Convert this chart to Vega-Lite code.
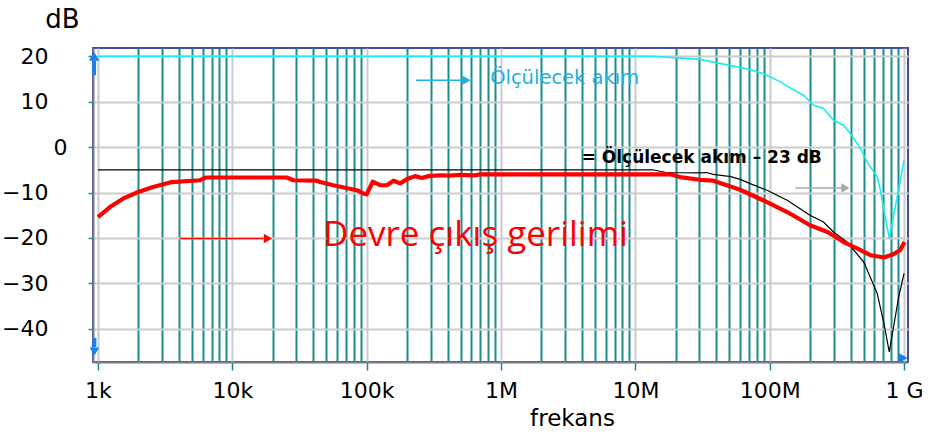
{
  "$schema": "https://vega.github.io/schema/vega-lite/v6.json",
  "width": 815,
  "height": 314,
  "autosize": {"type": "none"},
  "padding": {"left": 93, "top": 48, "right": 20, "bottom": 72},
  "background": "white",
  "config": {
    "view": {"stroke": "#4a4a9c", "strokeWidth": 2},
    "font": "DejaVu Sans"
  },
  "data": {
    "values": [
      {"k": "cyan", "f": 1000, "db": 20},
      {"k": "cyan", "f": 13490000, "db": 20},
      {"k": "cyan", "f": 30200000, "db": 19.3},
      {"k": "cyan", "f": 70790000, "db": 17.1},
      {"k": "cyan", "f": 89130000, "db": 16.2},
      {"k": "cyan", "f": 120200000, "db": 14.35},
      {"k": "cyan", "f": 134900000, "db": 13.4},
      {"k": "cyan", "f": 177800000, "db": 11.4},
      {"k": "cyan", "f": 213800000, "db": 9.2},
      {"k": "cyan", "f": 251200000, "db": 8.5},
      {"k": "cyan", "f": 298500000, "db": 5.9},
      {"k": "cyan", "f": 354800000, "db": 4.8},
      {"k": "cyan", "f": 398100000, "db": 3.0},
      {"k": "cyan", "f": 467700000, "db": 0.0},
      {"k": "cyan", "f": 537000000, "db": -3.6},
      {"k": "cyan", "f": 631000000, "db": -6.5},
      {"k": "cyan", "f": 660700000, "db": -9.0},
      {"k": "cyan", "f": 776200000, "db": -20.1},
      {"k": "cyan", "f": 1000000000, "db": -3.0},

      {"k": "black", "f": 1000, "db": -5.0},
      {"k": "black", "f": 13490000, "db": -5.0},
      {"k": "black", "f": 16980000, "db": -5.6},
      {"k": "black", "f": 30200000, "db": -5.7},
      {"k": "black", "f": 33880000, "db": -5.6},
      {"k": "black", "f": 38020000, "db": -6.0},
      {"k": "black", "f": 51290000, "db": -6.5},
      {"k": "black", "f": 60260000, "db": -7.1},
      {"k": "black", "f": 70790000, "db": -8.0},
      {"k": "black", "f": 95500000, "db": -9.5},
      {"k": "black", "f": 134900000, "db": -11.7},
      {"k": "black", "f": 199500000, "db": -15.0},
      {"k": "black", "f": 251200000, "db": -16.5},
      {"k": "black", "f": 298500000, "db": -18.7},
      {"k": "black", "f": 375800000, "db": -20.9},
      {"k": "black", "f": 501200000, "db": -25.3},
      {"k": "black", "f": 631000000, "db": -32.2},
      {"k": "black", "f": 707900000, "db": -38.8},
      {"k": "black", "f": 776200000, "db": -45.1},
      {"k": "black", "f": 912000000, "db": -33.0},
      {"k": "black", "f": 1000000000, "db": -27.8},

      {"k": "red", "f": 1000, "db": -15.4},
      {"k": "red", "f": 1227, "db": -13.2},
      {"k": "red", "f": 1545, "db": -11.3},
      {"k": "red", "f": 1995, "db": -9.9},
      {"k": "red", "f": 2570, "db": -8.8},
      {"k": "red", "f": 3548, "db": -7.7},
      {"k": "red", "f": 5754, "db": -7.3},
      {"k": "red", "f": 6310, "db": -6.7},
      {"k": "red", "f": 25410, "db": -6.7},
      {"k": "red", "f": 28440, "db": -7.3},
      {"k": "red", "f": 42460, "db": -7.4},
      {"k": "red", "f": 44980, "db": -7.7},
      {"k": "red", "f": 56490, "db": -8.4},
      {"k": "red", "f": 84330, "db": -9.5},
      {"k": "red", "f": 94410, "db": -10.2},
      {"k": "red", "f": 100000, "db": -10.4},
      {"k": "red", "f": 110900, "db": -7.6},
      {"k": "red", "f": 125900, "db": -8.4},
      {"k": "red", "f": 141300, "db": -8.4},
      {"k": "red", "f": 158500, "db": -7.4},
      {"k": "red", "f": 177400, "db": -8.0},
      {"k": "red", "f": 204200, "db": -6.9},
      {"k": "red", "f": 229100, "db": -6.4},
      {"k": "red", "f": 257000, "db": -6.8},
      {"k": "red", "f": 288400, "db": -6.4},
      {"k": "red", "f": 352400, "db": -6.2},
      {"k": "red", "f": 416900, "db": -6.3},
      {"k": "red", "f": 495500, "db": -6.1},
      {"k": "red", "f": 623700, "db": -6.25},
      {"k": "red", "f": 698200, "db": -6.0},
      {"k": "red", "f": 18200000, "db": -6.0},
      {"k": "red", "f": 21380000, "db": -6.6},
      {"k": "red", "f": 30200000, "db": -7.2},
      {"k": "red", "f": 38020000, "db": -7.4},
      {"k": "red", "f": 47860000, "db": -8.4},
      {"k": "red", "f": 60260000, "db": -9.4},
      {"k": "red", "f": 89130000, "db": -11.7},
      {"k": "red", "f": 134900000, "db": -14.3},
      {"k": "red", "f": 199500000, "db": -17.2},
      {"k": "red", "f": 269200000, "db": -18.7},
      {"k": "red", "f": 354800000, "db": -20.9},
      {"k": "red", "f": 446700000, "db": -22.3},
      {"k": "red", "f": 562300000, "db": -23.8},
      {"k": "red", "f": 707900000, "db": -24.3},
      {"k": "red", "f": 831800000, "db": -23.6},
      {"k": "red", "f": 933300000, "db": -22.7},
      {"k": "red", "f": 1010000000, "db": -20.9},

      {"k": "arrowRed", "f": 4074, "f2": 17000, "db": -20.1},
      {"k": "headRed", "f": 18400, "db": -20.1},
      {"k": "arrowCyan", "f": 233300, "f2": 520000, "db": 14.7},
      {"k": "headCyan", "f": 553000, "db": 14.7},
      {"k": "arrowGray", "f": 154900000, "f2": 345000000, "db": -9.0},
      {"k": "headGray", "f": 366000000, "db": -9.0},

      {"k": "txtCyan", "f": 829800, "db": 15.2, "label": "Ölçülecek akım"},
      {"k": "txtBlack", "f": 3981000, "db": -2.4, "label": "= Ölçülecek akım – 23 dB"},
      {"k": "txtRed", "f": 47320, "db": -19.4, "label": "Devre çıkış gerilimi"},

      {"k": "markTop", "f": 935, "db": 20.0},
      {"k": "stemTop", "f": 935, "db": 15.8, "db2": 19.0},
      {"k": "markBottom", "f": 940, "db": -45.0},
      {"k": "stemBottom", "f": 940, "db": -42.0, "db2": -44.0},
      {"k": "markRight", "f": 985000000, "db": -46.4}
    ]
  },
  "encoding": {
    "x": {
      "field": "f",
      "type": "quantitative",
      "scale": {"type": "log", "domain": [918, 1070000000], "nice": false},
      "axis": {
        "title": "frekans",
        "titleFont": "DejaVu Sans",
        "titleFontSize": 23,
        "titleFontWeight": "normal",
        "titleColor": "#000000",
        "titleX": 479,
        "titleY": 63,
        "titleAlign": "center",
        "titleBaseline": "alphabetic",
        "values": [1000,2000,3000,4000,5000,6000,7000,8000,9000,10000,20000,30000,40000,50000,60000,70000,80000,90000,100000,200000,300000,400000,500000,600000,700000,800000,900000,1000000,2000000,3000000,4000000,5000000,6000000,7000000,8000000,9000000,10000000,20000000,30000000,40000000,50000000,60000000,70000000,80000000,90000000,100000000,200000000,300000000,400000000,500000000,600000000,700000000,800000000,900000000,1000000000],
        "labelExpr": "datum.value == 1000 ? '1k' : datum.value == 10000 ? '10k' : datum.value == 100000 ? '100k' : datum.value == 1000000 ? '1M' : datum.value == 10000000 ? '10M' : datum.value == 100000000 ? '100M' : datum.value == 1000000000 ? '1 G' : ''",
        "labelFont": "DejaVu Sans",
        "labelFontSize": 22,
        "labelColor": "#000000",
        "labelBaseline": "alphabetic",
        "labelPadding": 27,
        "labelOverlap": false,
        "labelFlush": false,
        "tickSize": 8,
        "tickWidth": 1.5,
        "tickColor": {"condition": {"test": "indexof([1000,10000,100000,1000000,10000000,100000000,1000000000], datum.value) >= 0", "value": "#1a8c8c"}, "value": "transparent"},
        "grid": true,
        "gridColor": {"condition": {"test": "indexof([1000,10000,100000,1000000,10000000,100000000,1000000000], datum.value) >= 0", "value": "#cccccc"}, "value": "#1a8c8c"},
        "gridWidth": 2,
        "gridOpacity": 1,
        "domainColor": "#7a7a90",
        "domainWidth": 2
      }
    },
    "y": {
      "field": "db",
      "type": "quantitative",
      "scale": {"domain": [-47.3, 21.8], "nice": false, "zero": false},
      "axis": {
        "title": "dB",
        "titleAngle": 0,
        "titleFont": "DejaVu Sans",
        "titleFontSize": 26,
        "titleFontWeight": "normal",
        "titleColor": "#000000",
        "titleX": -31,
        "titleY": -21,
        "titleAlign": "center",
        "titleBaseline": "alphabetic",
        "values": [20, 10, 0, -10, -20, -30, -40],
        "labelFont": "DejaVu Sans",
        "labelFontSize": 22,
        "labelColor": "#000000",
        "labelPadding": {"condition": {"test": "datum.value == 0", "value": 21}, "value": 40},
        "labelBaseline": "middle",
        "labelFlush": false,
        "tickSize": 5,
        "tickWidth": 1.5,
        "tickColor": "#1a8c8c",
        "grid": true,
        "gridColor": "#cccccc",
        "gridWidth": 2,
        "domainColor": "#7a7a90",
        "domainWidth": 2
      }
    }
  },
  "layer": [
    {"transform": [{"filter": "datum.k == 'cyan'"}], "mark": {"type": "line", "color": "#14f0f0", "strokeWidth": 1.6}},
    {"transform": [{"filter": "datum.k == 'black'"}], "mark": {"type": "line", "color": "#000000", "strokeWidth": 1.2}},
    {"transform": [{"filter": "datum.k == 'red'"}], "mark": {"type": "line", "color": "#ff0000", "strokeWidth": 4.2, "strokeJoin": "round"}},
    {"transform": [{"filter": "datum.k == 'arrowRed'"}], "mark": {"type": "rule", "color": "#ff0000", "strokeWidth": 1.5}, "encoding": {"x2": {"field": "f2"}}},
    {"transform": [{"filter": "datum.k == 'arrowCyan'"}], "mark": {"type": "rule", "color": "#1ab0e8", "strokeWidth": 1.5}, "encoding": {"x2": {"field": "f2"}}},
    {"transform": [{"filter": "datum.k == 'arrowGray'"}], "mark": {"type": "rule", "color": "#a8a8a8", "strokeWidth": 1.5}, "encoding": {"x2": {"field": "f2"}}},
    {"transform": [{"filter": "datum.k == 'headRed'"}], "mark": {"type": "point", "shape": "triangle-right", "filled": true, "color": "#ff0000", "size": 90, "opacity": 1}},
    {"transform": [{"filter": "datum.k == 'headCyan'"}], "mark": {"type": "point", "shape": "triangle-right", "filled": true, "color": "#1ab0e8", "size": 90, "opacity": 1}},
    {"transform": [{"filter": "datum.k == 'headGray'"}], "mark": {"type": "point", "shape": "triangle-right", "filled": true, "color": "#a8a8a8", "size": 90, "opacity": 1}},
    {"transform": [{"filter": "datum.k == 'txtCyan'"}], "mark": {"type": "text", "align": "left", "baseline": "middle", "font": "DejaVu Sans", "fontSize": 19.5, "color": "#1ab0e8"}, "encoding": {"text": {"field": "label"}}},
    {"transform": [{"filter": "datum.k == 'txtBlack'"}], "mark": {"type": "text", "align": "left", "baseline": "middle", "font": "DejaVu Sans", "fontWeight": "bold", "fontSize": 17, "color": "#000000"}, "encoding": {"text": {"field": "label"}}},
    {"transform": [{"filter": "datum.k == 'txtRed'"}], "mark": {"type": "text", "align": "left", "baseline": "middle", "font": "Open Sans", "fontSize": 35, "color": "#ff0000"}, "encoding": {"text": {"field": "label"}}},
    {"transform": [{"filter": "datum.k == 'stemTop'"}], "mark": {"type": "rule", "color": "#1a7ff0", "strokeWidth": 4}, "encoding": {"y2": {"field": "db2"}}},
    {"transform": [{"filter": "datum.k == 'markTop'"}], "mark": {"type": "point", "shape": "triangle-up", "filled": true, "color": "#1a7ff0", "size": 110, "opacity": 1}},
    {"transform": [{"filter": "datum.k == 'stemBottom'"}], "mark": {"type": "rule", "color": "#1a7ff0", "strokeWidth": 4}, "encoding": {"y2": {"field": "db2"}}},
    {"transform": [{"filter": "datum.k == 'markBottom'"}], "mark": {"type": "point", "shape": "triangle-down", "filled": true, "color": "#1a7ff0", "size": 90, "opacity": 1}},
    {"transform": [{"filter": "datum.k == 'markRight'"}], "mark": {"type": "point", "shape": "triangle-right", "filled": true, "color": "#1a7ff0", "size": 100, "opacity": 1}}
  ]
}
